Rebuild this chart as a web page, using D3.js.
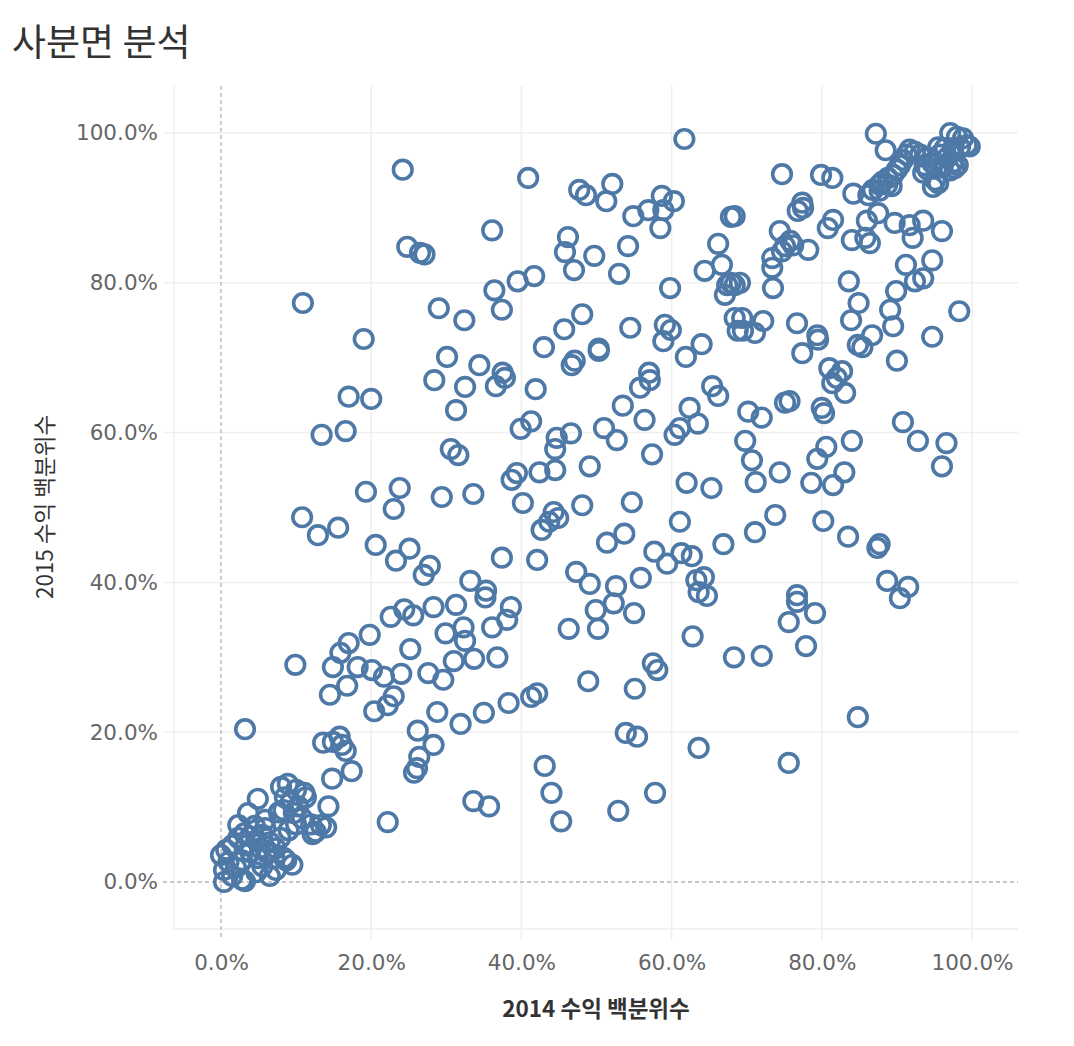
<!DOCTYPE html>
<html>
<head>
<meta charset="utf-8">
<script src="https://cdn.jsdelivr.net/npm/d3@7"></script>
<style>
  body { margin: 0; background: #fff; }
  svg text { font-family: "DejaVu Sans", sans-serif; }
  .kr { font-family: "Noto Sans CJK KR", "Noto Sans", sans-serif; }
</style>
</head>
<body>
<div id="chart"></div>
<script>
// 2014 / 2015 revenue percentiles, one [2014, 2015] pair per store, in %
var clusterLow = [
  [8.0,12.7],[8.9,13.1],[10.0,12.3],[11.1,11.9],[8.5,11.3],[9.3,10.7],[10.3,10.1],[11.3,11.3],
  [8.3,9.6],[9.7,9.2],[10.8,8.5],[10.0,7.7],[12.0,7.7],[12.6,6.7],[13.3,7.6],[12.2,6.4],[14.0,7.3],
  [7.7,9.3],[5.9,8.3],[4.9,11.1],[3.6,9.2],[2.3,7.6],
  [0,3.6],[0.7,4.3],[1.5,4.9],[2.3,5.9],[3.1,6.5],[3.9,6.1],[4.7,5.6],[5.5,6.3],[6.5,5.3],[7.3,4.5],
  [7.1,3.2],[6.0,4.0],[4.9,3.2],[3.9,4.0],[2.8,2.9],[2.0,1.9],[1.0,2.7],[0.4,1.6],[0.4,0],[1.5,0.8],
  [2.8,0.3],[3.2,0.1],[4.7,1.3],[5.5,2.1],[6.5,0.8],[7.3,1.6],[8.4,3.2],[9.5,2.3],[8.7,2.9],[5.2,4.5],
  [3.3,4.9],[7.9,5.9],[9.0,6.9],[5.9,7.2],[4.5,7.5]
];
var clusterHigh = [
  [97.1,100.0],[98.0,99.5],[98.8,99.3],[99.3,98.4],[99.7,98.2],[98.4,98.1],[97.5,98.0],[96.4,98.0],
  [95.5,98.1],[95.7,97.1],[96.7,96.7],[97.5,96.1],[98.1,95.7],[97.7,95.3],[97.1,95.0],[96.1,95.4],
  [95.3,95.3],[94.7,96.0],[94.0,96.7],[93.1,97.1],[92.4,97.5],[91.7,97.8],[91.3,97.1],[90.8,96.4],
  [90.4,95.7],[90.0,95.1],[89.5,94.4],[88.8,94.0],[88.1,93.5],[87.7,93.1],[86.8,92.4],[95.1,93.7],
  [95.5,93.3],[94.8,92.8],[93.7,95.7],[94.1,95.1],[93.5,94.7],[87.2,99.9],[88.5,97.7]
];
var leftPoints = [
  [24.2,95.1],[24.8,84.8],[26.5,84.0],[27.1,83.8],[10.9,77.3],[19.0,72.5],[17.0,64.8],[20.0,64.5],
  [13.4,59.7],[16.6,60.2],[19.3,52.1],[23.8,52.6],[23.0,49.8],[10.8,48.7],[15.6,47.3],[12.9,46.3],
  [20.6,45.0],[25.1,44.5],[23.3,42.9],[27.8,42.2],[27.0,41.0],[22.6,35.4],[24.4,36.4],[25.6,35.6],
  [28.3,36.7],[19.8,33.0],[17.0,31.9],[15.9,30.6],[25.2,31.1],[9.9,29.0],[14.9,28.7],[18.2,28.7],
  [20.1,28.3],[21.7,27.4],[24.0,27.8],[27.6,27.9],[29.6,27.0],[16.8,26.2],[14.5,25.0],[23.0,24.8],
  [22.2,23.6],[20.4,22.8],[3.2,20.4],[28.8,22.7],[26.2,20.2],[28.3,18.3],[26.4,16.7],[26.1,15.2],
  [25.7,14.6],[31.9,21.1],[13.6,18.6],[14.9,18.7],[15.8,19.4],[16.1,18.3],[16.6,17.5],[17.4,14.8],
  [14.8,13.8],[14.3,10.1],[22.2,8.0]
];
var middlePoints = [
  [40.9,94.0],[61.7,99.2],[47.7,92.4],[48.6,91.7],[52.1,93.2],[51.3,90.9],[58.7,91.6],[60.3,90.9],
  [56.9,89.7],[58.9,89.7],[54.9,88.9],[58.5,87.3],[67.9,88.8],[36.1,87.0],[46.2,86.1],[45.8,84.1],
  [49.7,83.6],[54.2,84.9],[47.0,81.7],[53.0,81.2],[41.7,80.9],[39.5,80.2],[36.4,79.0],[37.4,76.4],
  [32.4,75.0],[48.1,75.8],[45.7,73.8],[43.0,71.4],[50.3,71.2],[50.3,70.9],[54.5,74.0],[59.8,79.3],
  [66.2,85.2],[64.4,81.6],[66.7,82.4],[67.4,79.7],[67.9,80.0],[67.1,78.4],[59.1,74.4],[59.9,73.7],
  [58.9,72.2],[64.0,71.8],[61.9,70.1],[34.4,69.0],[46.7,69.0],[47.1,69.6],[57.0,68.0],[37.5,68.0],
  [68.4,75.3],[68.8,73.6],
  [29.0,76.6],[30.1,70.1],[28.4,67.0],[32.5,66.1],[36.6,66.2],[37.8,67.3],[31.3,63.0],[41.9,65.8],
  [30.6,57.8],[31.6,57.0],[29.4,51.4],[33.6,51.8],[39.9,60.5],[41.3,61.5],[44.7,59.3],[46.6,59.9],
  [44.5,57.8],[42.4,54.7],[44.5,55.0],[38.7,53.7],[39.4,54.6],[40.2,50.6],[44.3,49.4],[44.9,48.6],
  [43.7,48.1],[48.1,50.3],[49.1,55.5],[42.1,43.0],[42.7,47.0],
  [33.2,40.2],[35.3,38.9],[35.2,38.0],[31.3,37.0],[36.1,34.0],[37.4,43.3],[38.6,36.7],[38.1,35.0],
  [32.3,34.0],[29.9,33.2],[32.5,32.2],[31.0,29.5],[33.7,29.8],[36.8,30.0],[38.3,23.9],[41.3,24.7],
  [42.1,25.2],[35.0,22.6],
  [33.6,10.8],[35.7,10.1],[43.1,15.5],[44.0,11.9],[45.3,8.1],[52.9,9.5],[53.9,19.9],[55.4,19.4],
  [48.9,26.8],[55.1,25.8],[57.8,11.9],[63.6,17.9],[62.8,32.8],[57.5,29.2],[58.1,28.3],[68.3,30.0],
  [46.3,33.8],[47.3,41.4],[49.1,39.8],[49.9,36.3],[50.2,33.8],[51.4,45.3],[53.7,46.5],[52.3,37.2],
  [52.6,39.5],[55.0,35.9],[54.7,50.7],[55.9,40.6],[57.7,44.1],[59.4,42.5],[61.1,48.1],[61.3,43.9],
  [62.7,43.5],[62.0,53.3],[63.3,40.3],[63.6,38.7],[64.3,40.7],[64.7,38.2],[65.3,52.6],[66.9,45.1],
  [57.4,57.1],[56.4,61.7],[52.7,59.0],[51.0,60.6],[53.5,63.6],[55.8,66.0],[57.1,67.0],[60.4,59.7],
  [61.1,60.6],[62.4,63.3],[63.5,61.2],[65.4,66.2],[66.2,64.9],[69.8,58.9],[70.2,62.8],[70.7,56.3],
  [71.2,53.4],[71.1,46.7],[72.0,62.0],[73.8,49.0],[74.4,54.7],[75.1,64.0],[75.7,64.2]
];
var rightPoints = [
  [77.4,90.7],[76.8,89.6],[77.5,90.0],[74.4,86.9],[75.8,85.6],[75.1,84.9],[76.2,85.0],[78.2,84.4],
  [73.4,83.3],[73.4,82.0],[73.5,79.3],[74.7,84.2],[80.8,87.3],[81.5,88.4],[84.0,85.7],[85.8,86.0],
  [86.4,85.3],[86.0,88.3],[87.5,89.3],[89.7,88.0],[91.7,87.7],[93.5,88.3],[92.1,86.0],[96.0,86.9],
  [83.6,80.2],[84.9,77.3],[83.9,75.0],[86.7,73.0],[84.8,71.7],[85.4,71.4],[90.0,69.6],[91.2,82.4],
  [94.7,83.0],[92.4,80.2],[93.5,80.6],[89.9,78.9],[89.1,76.4],[89.5,74.2],[94.7,72.8],[98.3,76.2],
  [76.7,74.6],[79.4,73.0],[79.5,72.4],[77.4,70.6],[69.4,75.3],[69.5,73.6],[71.1,73.3],[72.2,74.9],
  [68.4,88.9],[68.4,79.7],[69.1,80.0],[81.0,68.6],[82.7,68.2],[84.2,91.9],[86.2,91.7],[87.7,92.3],
  [88.7,93.1],[89.3,92.9],[74.7,94.5],[79.9,94.4],[81.4,94.0],
  [82.0,67.3],[81.4,66.6],[83.1,65.3],[80.0,63.3],[80.3,62.6],[84.0,58.9],[80.6,58.1],[83.0,54.7],
  [81.5,53.0],[78.6,53.3],[79.4,56.5],[80.2,48.2],[83.5,46.1],[87.7,45.1],[87.4,44.6],[90.8,61.4],
  [92.8,58.9],[96.6,58.6],[96.0,55.5],[88.7,40.2],[90.4,37.9],[91.5,39.4],[84.8,22.0],[75.6,34.7],
  [76.7,38.3],[76.7,37.4],[79.1,35.9],[77.9,31.5],[75.6,15.9],[72.0,30.2]
];
var tickValues = [0, 20, 40, 60, 80, 100];
var title = "사분면 분석";
var xTitle = "2014 수익 백분위수";
var yTitle = "2015 수익 백분위수";

var width = 1074, height = 1046;
var plot = {left: 174, right: 1018, top: 86, bottom: 929};

var points = [].concat(clusterLow, leftPoints, middlePoints, rightPoints, clusterHigh);

var svg = d3.select("#chart").append("svg")
    .attr("width", width)
    .attr("height", height);

// scales: 0% at 221px, 100% at 972px (x); 0% at 882px, 100% at 133px (y)
var x = d3.scaleLinear().domain([0, 100]).range([221, 972]);
var y = d3.scaleLinear().domain([0, 100]).range([882, 133]);
var fmt = function(d) { return d3.format(".1f")(d) + "%"; };

// grid lines + frame
var grid = svg.append("g");
grid.selectAll(".vg").data(tickValues.filter(function(d) { return d > 0; }))
  .enter().append("line")
    .attr("x1", function(d) { return x(d); }).attr("x2", function(d) { return x(d); })
    .attr("y1", plot.top).attr("y2", plot.bottom + 11)
    .attr("stroke", "#efefef").attr("stroke-width", 1.5);
grid.selectAll(".hg").data(tickValues.filter(function(d) { return d > 0; }))
  .enter().append("line")
    .attr("y1", function(d) { return y(d); }).attr("y2", function(d) { return y(d); })
    .attr("x1", plot.left - 11).attr("x2", plot.right)
    .attr("stroke", "#efefef").attr("stroke-width", 1.5);
grid.append("line")
    .attr("x1", plot.left).attr("x2", plot.left).attr("y1", plot.top).attr("y2", plot.bottom)
    .attr("stroke", "#efefef").attr("stroke-width", 1.5);
grid.append("line")
    .attr("x1", plot.left).attr("x2", plot.right).attr("y1", plot.bottom).attr("y2", plot.bottom)
    .attr("stroke", "#efefef").attr("stroke-width", 1.5);

// zero reference lines (dashed)
grid.append("line")
    .attr("x1", x(0)).attr("x2", x(0)).attr("y1", plot.top).attr("y2", plot.bottom + 11)
    .attr("stroke", "#b5b5b5").attr("stroke-width", 1.3).attr("stroke-dasharray", "4,3");
grid.append("line")
    .attr("x1", plot.left - 11).attr("x2", plot.right).attr("y1", y(0)).attr("y2", y(0))
    .attr("stroke", "#b5b5b5").attr("stroke-width", 1.3).attr("stroke-dasharray", "4,3");

// axes (labels only, the lines are drawn above)
var xAxis = svg.append("g")
    .attr("transform", "translate(0," + plot.bottom + ")")
    .call(d3.axisBottom(x).tickValues(tickValues).tickFormat(fmt).tickSize(0).tickPadding(41));
var yAxis = svg.append("g")
    .attr("transform", "translate(" + plot.left + ",0)")
    .call(d3.axisLeft(y).tickValues(tickValues).tickFormat(fmt).tickSize(0).tickPadding(16));
[xAxis, yAxis].forEach(function(a) {
  a.select(".domain").remove();
  a.selectAll("text")
    .attr("font-size", 21.5)
    .attr("fill", "#666");
});
xAxis.selectAll("text").attr("dy", "0");

// points
svg.append("g").selectAll("circle")
  .data(points)
  .enter().append("circle")
    .attr("cx", function(d) { return x(d[0]); })
    .attr("cy", function(d) { return y(d[1]); })
    .attr("r", 9.3)
    .attr("fill", "none")
    .attr("stroke", "#4e79a7")
    .attr("stroke-width", 3.6);

// titles
svg.append("text").attr("class", "kr")
    .attr("x", 12).attr("y", 56)
    .attr("font-size", 37)
    .attr("fill", "#333")
    .text(title);
svg.append("text").attr("class", "kr")
    .attr("x", 596).attr("y", 1017)
    .attr("text-anchor", "middle")
    .attr("font-size", 22.5)
    .attr("font-weight", "bold")
    .attr("fill", "#333")
    .text(xTitle);
svg.append("text").attr("class", "kr")
    .attr("transform", "translate(53,507) rotate(-90)")
    .attr("text-anchor", "middle")
    .attr("font-size", 22.5)
    .attr("fill", "#333")
    .text(yTitle);
</script>
</body>
</html>
